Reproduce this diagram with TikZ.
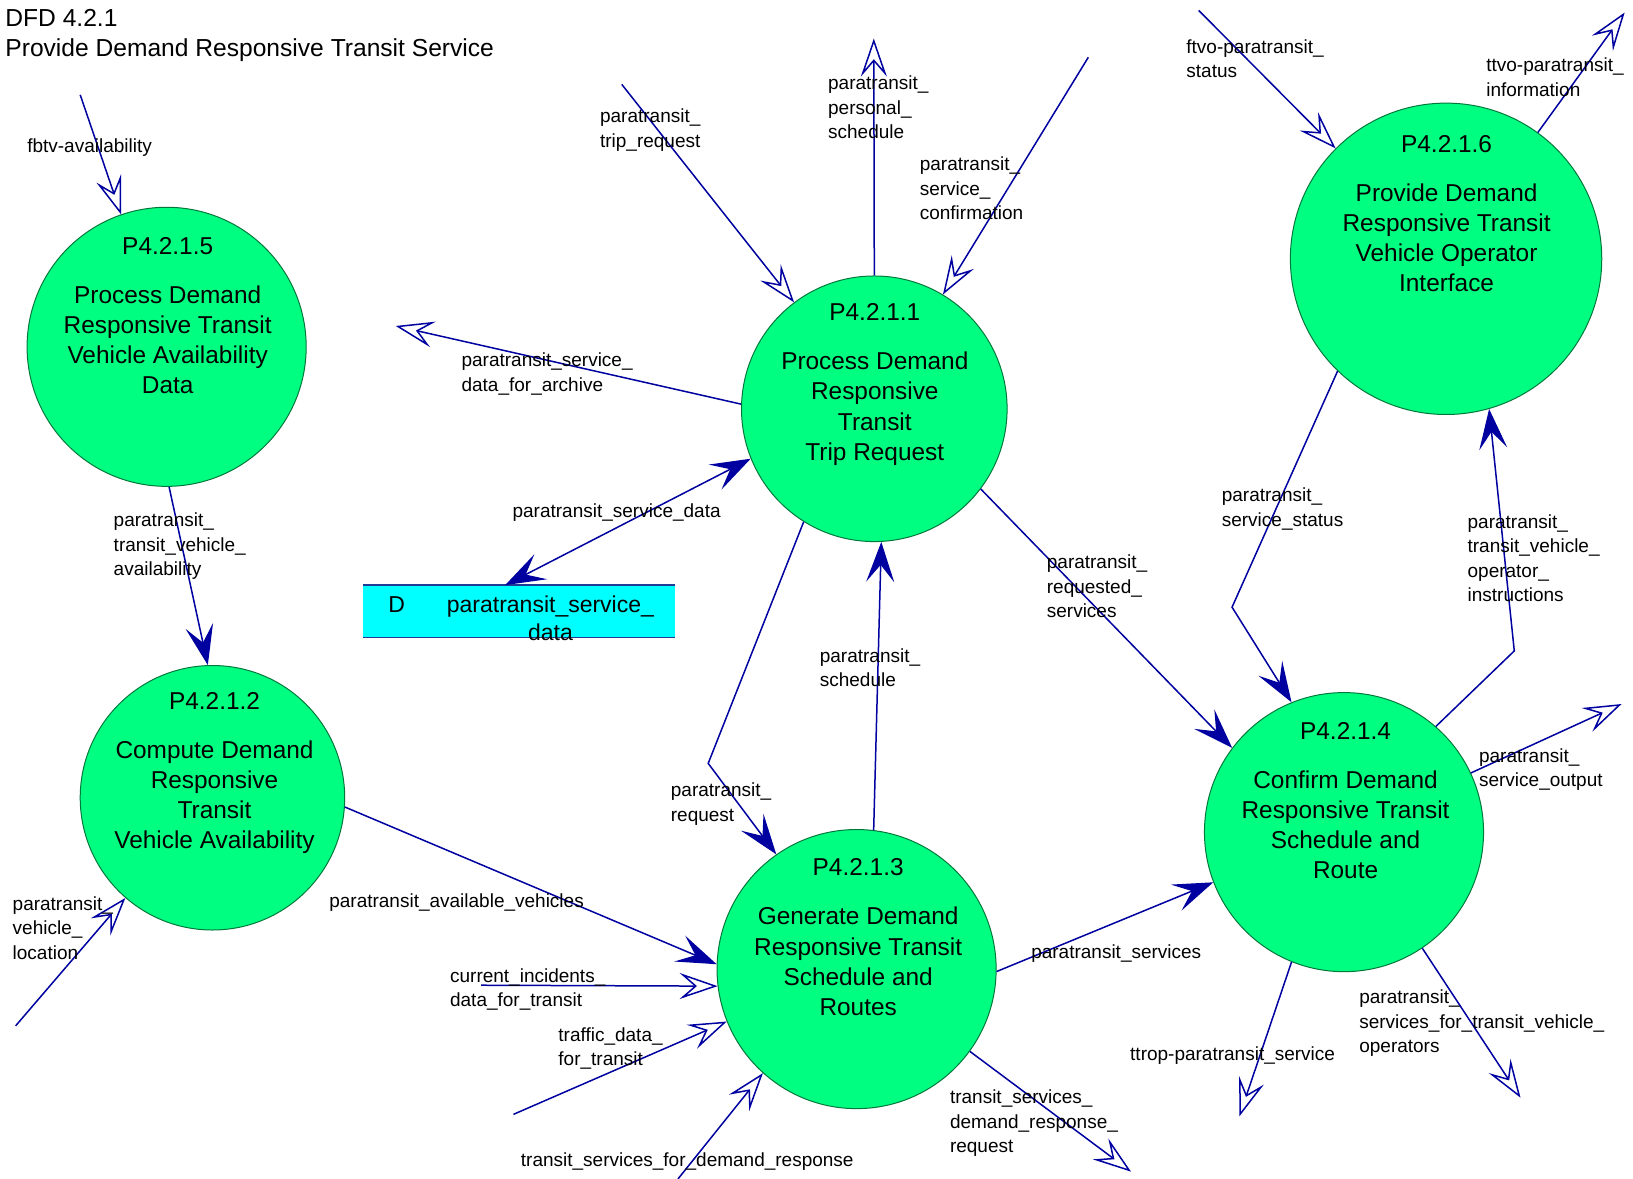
\documentclass[tikz,border=0pt]{standalone}
\usepackage{fontspec}
\setmainfont{Liberation Sans}
\usetikzlibrary{arrows.meta}
\definecolor{flow}{RGB}{0,0,160}
\definecolor{procfill}{RGB}{0,255,128}
\definecolor{procdraw}{RGB}{0,120,60}
\definecolor{storefill}{RGB}{0,255,255}
\definecolor{storeline}{RGB}{30,60,150}
\begin{document}
\begin{tikzpicture}[x=1.0415pt, y=-1.0415pt,
  proc/.style={circle, fill=procfill, draw=procdraw, line width=1pt, inner sep=0pt},
  ptext/.style={align=center, font=\fontsize{24.4}{30.2}\selectfont, inner sep=0pt, anchor=base},
  lbl/.style={align=left, font=\fontsize{19}{24.5}\selectfont, inner sep=0pt, anchor=base west},
  flowline/.style={draw=flow, line width=1.5pt},
  extflow/.style={flowline, -{Stealth[open, length=38pt, width=26pt, inset=15pt]}},
  intflow/.style={flowline, -{Stealth[length=40pt, width=28pt, inset=17pt]}},
  bothflow/.style={flowline, {Stealth[length=40pt, width=28pt, inset=17pt]}-{Stealth[length=40pt, width=28pt, inset=17pt]}},
]
\fill[white] (0,0) rectangle (1568,1132);
\useasboundingbox (0,0) rectangle (1568,1132);

% title (node anchored at baseline of its last line)
\node[anchor=base west, align=left, inner sep=0pt, font=\fontsize{24.6}{30.2}\selectfont] (title) at (5,54)
  {DFD 4.2.1\\Provide Demand Responsive Transit Service};

% processes
\node[proc, minimum size=279.1pt] (C5) at (160,333) {};
\node[proc, minimum size=265.6pt] (C1) at (839.5,392.5) {};
\node[proc, minimum size=311.4pt] (C6) at (1388.5,248.5) {};
\node[proc, minimum size=264.5pt] (C2) at (204,766) {};
\node[proc, minimum size=279.1pt] (C3) at (822.5,930.5) {};
\node[proc, minimum size=279.1pt] (C4) at (1290.5,799) {};

\node[ptext] (T5) at (161,378) {P4.2.1.5\\[18.8pt]Process Demand\\Responsive Transit\\Vehicle Availability\\Data};
\node[ptext] (T1) at (840,442) {P4.2.1.1\\[18.8pt]Process Demand\\Responsive\\Transit\\Trip Request};
\node[ptext] (T6) at (1389,280) {P4.2.1.6\\[18.8pt]Provide Demand\\Responsive Transit\\Vehicle Operator\\Interface};
\node[ptext] (T2) at (206,815) {P4.2.1.2\\[18.8pt]Compute Demand\\Responsive\\Transit\\Vehicle Availability};
\node[ptext] (T3) at (824,975) {P4.2.1.3\\[18.8pt]Generate Demand\\Responsive Transit\\Schedule and\\Routes};
\node[ptext] (T4) at (1292,844) {P4.2.1.4\\[18.8pt]Confirm Demand\\Responsive Transit\\Schedule and\\Route};

% data store
\node[fill=storefill, minimum width=311.4pt, minimum height=52.1pt, inner sep=0pt] (store) at (498.5,587) {};
\draw[storeline, line width=1.5pt] (store.north west) -- (store.north east);
\draw[storeline, line width=1.5pt] (store.south west) -- (store.south east);
\node[anchor=base, inner sep=0pt, font=\fontsize{23}{28}\selectfont] (storeD) at (381,588) {D};
\node[anchor=base, align=center, inner sep=0pt, font=\fontsize{23}{28}\selectfont] (storeN) at (528.5,615) {paratransit\_service\_\\data};

% free ends and bends
\coordinate (pA) at (77,91);
\coordinate (pB) at (597,81);
\coordinate (pC) at (839,37);
\coordinate (pD) at (1045,55);
\coordinate (pE) at (1151,10);
\coordinate (pF) at (1560,12);
\coordinate (pG) at (380,313);
\coordinate (pJ) at (15,985);
\coordinate (pL) at (462,946);
\coordinate (pM) at (493,1070);
\coordinate (pN) at (651,1132);
\coordinate (pO) at (1086,1125);
\coordinate (pV) at (1557,676);
\coordinate (pW) at (1190,1072);
\coordinate (pX) at (1460,1054);
\coordinate (pQ) at (680,733);
\coordinate (pT) at (1183,583);
\coordinate (pU) at (1454,625);

% connectors
\draw[extflow] (pA) -- (C5.109.4);
\draw[extflow] (pB) -- (C1.127.6);
\draw[extflow] (C1.90) -- (pC);
\draw[extflow] (pD) -- (C1.59.2);
\draw[extflow] (pE) -- (C6.135);
\draw[extflow] (C6.54.1) -- (pF);
\draw[extflow] (C1.178.4) -- (pG);
\draw[bothflow] ([xshift=-14pt]store.north) -- (C1.202.6);
\draw[intflow] (C5.-89.1) -- (C2.92.3);
\draw[extflow] (pJ) -- (C2.229.2);
\draw[intflow] (C2.-4.95) -- (C3.178.9);
\draw[extflow] (pL) -- (C3.187.1);
\draw[extflow] (pM) -- (C3.202.8);
\draw[extflow] (pN) -- (C3.228.9);
\draw[extflow] (C3.-36.8) -- (pO);
\draw[intflow] (C3.-1.5) -- (C4.201.6);
\draw[intflow] (C1.238.7) -- (pQ) -- (C3.125.5);
\draw[intflow] (C3.83.3) -- (C1.273);
\draw[intflow] (C1.-37.3) -- (C4.143.3);
\draw[intflow] (C6.226.4) -- (pT) -- (C4.112.3);
\draw[intflow] (C4.49.1) -- (pU) -- (C6.286.97);
\draw[extflow] (C4.25.1) -- (pV);
\draw[extflow] (C4.248.3) -- (pW);
\draw[extflow] (C4.-56.3) -- (pX);

% labels (anchored at the baseline of their last line)
\node[lbl] (L1) at (26,146) {fbtv-availability};
\node[lbl] (L2) at (576,141.5) {paratransit\_\\trip\_request};
\node[lbl] (L3) at (795,133) {paratransit\_\\personal\_\\schedule};
\node[lbl] (L4) at (883,211) {paratransit\_\\service\_\\confirmation};
\node[lbl] (L5) at (1139,74.5) {ftvo-paratransit\_\\status};
\node[lbl] (L6) at (1427,92.5) {ttvo-paratransit\_\\information};
\node[lbl] (L7) at (443,375.5) {paratransit\_service\_\\data\_for\_archive};
\node[lbl] (L8) at (492,497) {paratransit\_service\_data};
\node[lbl] (L9) at (109,553) {paratransit\_\\transit\_vehicle\_\\availability};
\node[lbl] (L10) at (1005,593) {paratransit\_\\requested\_\\services};
\node[lbl] (L11) at (1173,505.5) {paratransit\_\\service\_status};
\node[lbl] (L12) at (1409,577.6) {paratransit\_\\transit\_vehicle\_\\operator\_\\instructions};
\node[lbl] (L13) at (787,659.5) {paratransit\_\\schedule};
\node[lbl] (L14) at (644,788.5) {paratransit\_\\request};
\node[lbl] (L15) at (1420,755.5) {paratransit\_\\service\_output};
\node[lbl] (L16) at (12,921) {paratransit\_\\vehicle\_\\location};
\node[lbl] (L17) at (316,871) {paratransit\_available\_vehicles};
\node[lbl] (L18) at (432,966.5) {current\_incidents\_\\data\_for\_transit};
\node[lbl] (L19) at (536,1023.5) {traffic\_data\_\\for\_transit};
\node[lbl] (L20) at (990,920) {paratransit\_services};
\node[lbl] (L21) at (1085,1018) {ttrop-paratransit\_service};
\node[lbl] (L22) at (1305,1011) {paratransit\_\\services\_for\_transit\_vehicle\_\\operators};
\node[lbl] (L23) at (912,1107) {transit\_services\_\\demand\_response\_\\request};
\node[lbl] (L24) at (500,1120) {transit\_services\_for\_demand\_response};
\end{tikzpicture}
\end{document}
